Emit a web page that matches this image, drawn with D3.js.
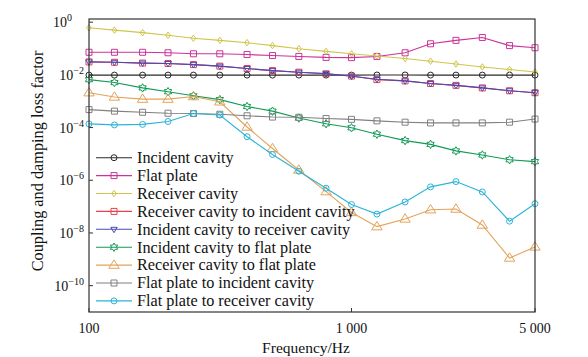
<!DOCTYPE html>
<html><head><meta charset="utf-8">
<script src="https://cdn.jsdelivr.net/npm/d3@7/dist/d3.min.js"></script>
<style>body{margin:0;background:#fff;} text{font-family:"Liberation Serif","Times New Roman",serif;fill:#111;}</style>
</head><body><svg id="c" width="588" height="357"></svg>
<script>
const freqs = [100,125,160,200,250,315,400,500,630,800,1000,1250,1600,2000,2500,3150,4000,5000];
const seriesNames = ["Incident cavity","Flat plate","Receiver cavity","Receiver cavity to incident cavity","Incident cavity to receiver cavity","Incident cavity to flat plate","Receiver cavity to flat plate","Flat plate to incident cavity","Flat plate to receiver cavity"];
const incidentCavity = [0.0098,0.0098,0.0098,0.0098,0.0098,0.0098,0.0098,0.0098,0.0098,0.0098,0.0098,0.0099,0.0099,0.0098,0.0098,0.0098,0.0098,0.0098];
const flatPlate = [0.072,0.072,0.072,0.069,0.063,0.063,0.059,0.054,0.050,0.046,0.045,0.050,0.069,0.151,0.204,0.263,0.129,0.107];
const receiverCavity = [0.61,0.50,0.40,0.32,0.245,0.204,0.166,0.129,0.098,0.078,0.063,0.052,0.042,0.033,0.026,0.020,0.016,0.0129];
const recToInc = [0.031,0.030,0.028,0.027,0.0245,0.0214,0.0174,0.0145,0.0126,0.0110,0.0090,0.0066,0.0059,0.0047,0.0040,0.0032,0.0025,0.0021];
const incToRec = [0.031,0.030,0.028,0.027,0.0245,0.0214,0.0174,0.0145,0.0126,0.0111,0.0089,0.0068,0.0059,0.0047,0.0040,0.0032,0.0025,0.0021];
const incToFlat = [6.6e-3,5.1e-3,3.2e-3,2.3e-3,1.6e-3,1.15e-3,6.3e-4,4.2e-4,2.3e-4,1.4e-4,9.8e-5,5.6e-5,3.2e-5,2.3e-5,1.3e-5,9.1e-6,6.0e-6,5.1e-6];
const recToFlat = [2.1e-3,1.45e-3,1.2e-3,1.2e-3,1.5e-3,9.5e-4,1.05e-4,1.6e-5,2.45e-6,3.7e-7,6.0e-8,1.74e-8,3.4e-8,7.6e-8,8.1e-8,2.0e-8,1.12e-9,2.95e-9];
const flatToInc = [4.8e-4,4.2e-4,3.8e-4,3.5e-4,3.4e-4,3.2e-4,2.8e-4,2.5e-4,2.45e-4,2.2e-4,2.05e-4,1.8e-4,1.6e-4,1.5e-4,1.5e-4,1.5e-4,1.6e-4,2.1e-4];
const flatToRec = [1.38e-4,1.26e-4,1.32e-4,1.7e-4,3.4e-4,3.0e-4,4.5e-5,9.5e-6,2.2e-6,5.0e-7,1.2e-7,5.2e-8,1.5e-7,5.6e-7,8.9e-7,3.6e-7,2.8e-8,1.29e-7];
const xTickValues = [100,1000,5000];
const xTickLabels = ["100","1 000","5 000"];
const yTickExps = [0,-2,-4,-6,-8,-10];

const allSeries = [incidentCavity,flatPlate,receiverCavity,recToInc,incToRec,incToFlat,recToFlat,flatToInc,flatToRec];
const colors = ["#2a2a2a","#cc3399","#cfc54a","#e8404c","#4a4ab8","#129a55","#e3a35a","#808080","#2ab4d8"];
const markers = ["circle","square","diamond","square","tridown","star","triup","square","circle"];

const M = {l:89, r:535, t:19, b:312};
const svg = d3.select("#c");
const x = d3.scaleLog().domain([100,5000]).range([M.l,M.r]);
const y = d3.scaleLog().domain([1e-11, Math.pow(10,0.12)]).range([M.b,M.t]);

function markerPath(type){
  switch(type){
    case "circle": return d3.symbol(d3.symbolCircle, 28)();
    case "square": return "M-3,-3H3V3H-3Z";
    case "diamond": return "M0,-3.2L2.4,0L0,3.2L-2.4,0Z";
    case "tridown": return "M-3.2,-2L3.2,-2L0,3.4Z";
    case "triup": return "M0,-5.2L5.2,3.2L-5.2,3.2Z";
    case "star": {
      const pts=[]; const R=4.2, r=R/Math.sqrt(3);
      for(let i=0;i<12;i++){const a=-Math.PI/2+i*Math.PI/6; const rr=i%2?r:R; pts.push([rr*Math.cos(a), rr*Math.sin(a)]);}
      return "M"+pts.map(p=>p[0].toFixed(2)+","+p[1].toFixed(2)).join("L")+"Z";
    }
  }
}

const line = d3.line().x((d,i)=>x(freqs[i])).y(d=>y(d));
const plot = svg.append("g");
allSeries.forEach((vals,k)=>{
  const g = plot.append("g");
  g.append("path").attr("d", line(vals)).attr("fill","none").attr("stroke",colors[k]).attr("stroke-width",1.1);
  g.selectAll("path.m").data(vals).enter().append("path").attr("class","m")
    .attr("d", markerPath(markers[k]))
    .attr("transform",(d,i)=>`translate(${x(freqs[i])},${y(d)})`)
    .attr("fill","none").attr("stroke",colors[k]).attr("stroke-width",1);
});

// frame
svg.append("rect").attr("x",M.l).attr("y",M.t).attr("width",M.r-M.l).attr("height",M.b-M.t)
  .attr("fill","none").attr("stroke","#333").attr("stroke-width",1.2);

// x ticks
xTickValues.forEach((v,i)=>{
  svg.append("line").attr("x1",x(v)).attr("x2",x(v)).attr("y1",M.b).attr("y2",M.b-4).attr("stroke","#333");
  svg.append("text").attr("x",x(v)).attr("y",333).attr("text-anchor","middle").attr("font-size",14).text(xTickLabels[i]);
});
// y ticks
yTickExps.forEach(e=>{
  const yy = y(Math.pow(10,e));
  svg.append("line").attr("x1",M.l).attr("x2",M.l+4).attr("y1",yy).attr("y2",yy).attr("stroke","#333");
  const t = svg.append("text").attr("y",yy+5).attr("font-size",14);
  if(e===0){ t.attr("x",53).attr("text-anchor","start"); } else { t.attr("x",84).attr("text-anchor","end"); }
  t.append("tspan").text("10");
  t.append("tspan").attr("font-size",10).attr("dy",-6).text(e===0?"0":"\u2212"+(-e));
});

// axis titles
svg.append("text").attr("x",306).attr("y",353).attr("text-anchor","middle").attr("font-size",15.5).text("Frequency/Hz");
svg.append("text").attr("transform","translate(43,161) rotate(-90)").attr("text-anchor","middle").attr("font-size",16.3).text("Coupling and damping loss factor");

// legend
const lg = svg.append("g");
seriesNames.forEach((name,k)=>{
  const yy = 157.7 + k*17.9;
  lg.append("line").attr("x1",96).attr("x2",132).attr("y1",yy).attr("y2",yy).attr("stroke",colors[k]).attr("stroke-width",1.1);
  lg.append("path").attr("d",markerPath(markers[k])).attr("transform",`translate(114,${yy})`).attr("fill","none").attr("stroke",colors[k]);
  lg.append("text").attr("x",137).attr("y",yy+5.3).attr("font-size",16.2).text(name);
});
</script></body></html>
